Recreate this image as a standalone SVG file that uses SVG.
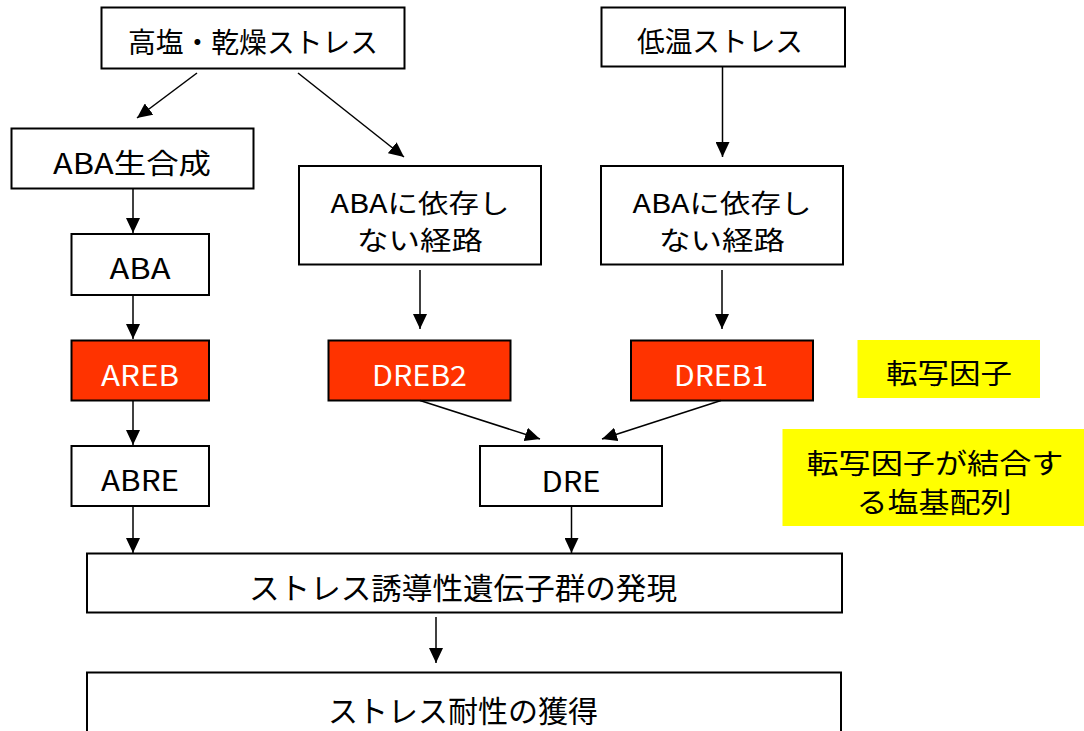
<svg xmlns="http://www.w3.org/2000/svg" width="1084" height="731" viewBox="0 0 1084 731">
<style>
.box{fill:#ffffff;stroke:#000000;stroke-width:2}
.red{fill:#ff3300;stroke:#000000;stroke-width:2}
.yel{fill:#ffff00;stroke:none}
.t{font-family:"Noto Sans CJK JP","Noto Sans",sans-serif;font-size:28px;fill:#000000;text-anchor:middle;dominant-baseline:central}
.w{fill:#ffffff}
.big{font-size:30px}
.two{font-size:26px}
.c line{stroke:#000000;stroke-width:1.5;marker-end:url(#ah)}
</style>
<defs>
<marker id="ah" markerWidth="16" markerHeight="14" refX="15" refY="7" orient="auto" markerUnits="userSpaceOnUse">
<path d="M0,0 L15,7 L0,14 z" fill="#000000"/>
</marker>
</defs>
<rect x="0" y="0" width="1084" height="731" fill="#ffffff"/>
<g id="n1"><rect class="box" x="101.5" y="7.5" width="303" height="61"/><text class="t" x="253" y="41" textLength="250" lengthAdjust="spacingAndGlyphs">高塩・乾燥ストレス</text></g>
<g id="n2"><rect class="box" x="601.5" y="7.5" width="243.5" height="59"/><text class="t" x="720" y="39.5" textLength="166" lengthAdjust="spacingAndGlyphs">低温ストレス</text></g>
<g id="n3"><rect class="box" x="11.5" y="128.5" width="242" height="60"/><text class="t" x="132" y="161.5" textLength="158" lengthAdjust="spacingAndGlyphs">ABA生合成</text></g>
<g id="n4"><rect class="box" x="299" y="166" width="242" height="98.5"/><text class="t two" x="420" y="201" textLength="179" lengthAdjust="spacingAndGlyphs">ABAに依存し</text><text class="t two" x="420" y="238" textLength="126" lengthAdjust="spacingAndGlyphs">ない経路</text></g>
<g id="n5"><rect class="box" x="601" y="166" width="242" height="98.5"/><text class="t two" x="722" y="201" textLength="179" lengthAdjust="spacingAndGlyphs">ABAに依存し</text><text class="t two" x="722" y="238" textLength="126" lengthAdjust="spacingAndGlyphs">ない経路</text></g>
<g id="n6"><rect class="box" x="71.5" y="234" width="137.5" height="61"/><text class="t" x="140" y="267" textLength="61" lengthAdjust="spacingAndGlyphs">ABA</text></g>
<g id="n7"><rect class="red" x="71.5" y="340.5" width="137.5" height="60"/><text class="t w" x="140" y="373.5" textLength="78" lengthAdjust="spacingAndGlyphs">AREB</text></g>
<g id="n8"><rect class="red" x="328.5" y="340.5" width="182" height="60"/><text class="t w" x="419.5" y="373.5" textLength="95" lengthAdjust="spacingAndGlyphs">DREB2</text></g>
<g id="n9"><rect class="red" x="631" y="340.5" width="182" height="60"/><text class="t w" x="721" y="373.5" textLength="94" lengthAdjust="spacingAndGlyphs">DREB1</text></g>
<g id="n10"><rect class="yel" x="857.5" y="340" width="182.5" height="58"/><text class="t" x="949" y="372" textLength="126" lengthAdjust="spacingAndGlyphs">転写因子</text></g>
<g id="n11"><rect class="box" x="71.5" y="446" width="137.5" height="60"/><text class="t" x="140" y="478.5" textLength="78" lengthAdjust="spacingAndGlyphs">ABRE</text></g>
<g id="n12"><rect class="box" x="480" y="446" width="182" height="60"/><text class="t" x="571" y="480" textLength="59" lengthAdjust="spacingAndGlyphs">DRE</text></g>
<g id="n13"><rect class="yel" x="782.5" y="429" width="301.5" height="97"/><text class="t" x="935" y="462" textLength="257" lengthAdjust="spacingAndGlyphs">転写因子が結合す</text><text class="t" x="934" y="501" textLength="155" lengthAdjust="spacingAndGlyphs">る塩基配列</text></g>
<g id="n14"><rect class="box" x="87" y="553.5" width="755" height="59"/><text class="t big" x="463" y="586" textLength="428" lengthAdjust="spacingAndGlyphs">ストレス誘導性遺伝子群の発現</text></g>
<g id="n15"><rect class="box" x="87" y="672.5" width="754" height="72"/><text class="t big" x="463" y="709" textLength="270" lengthAdjust="spacingAndGlyphs">ストレス耐性の獲得</text></g>
<g id="connectors" class="c">
<line x1="197" y1="73" x2="137" y2="118"/>
<line x1="298" y1="73" x2="404" y2="157"/>
<line x1="722.5" y1="67" x2="722.5" y2="157"/>
<line x1="133" y1="188.5" x2="133" y2="233"/>
<line x1="420" y1="270" x2="420" y2="329"/>
<line x1="722" y1="270" x2="722" y2="329"/>
<line x1="133" y1="295" x2="133" y2="339"/>
<line x1="420" y1="400.5" x2="540" y2="439"/>
<line x1="721" y1="400.5" x2="602" y2="439"/>
<line x1="133" y1="400.5" x2="133" y2="445"/>
<line x1="133" y1="506" x2="133" y2="553"/>
<line x1="571.5" y1="506" x2="571.5" y2="553"/>
<line x1="436" y1="617" x2="436" y2="663"/>
</g>
</svg>
